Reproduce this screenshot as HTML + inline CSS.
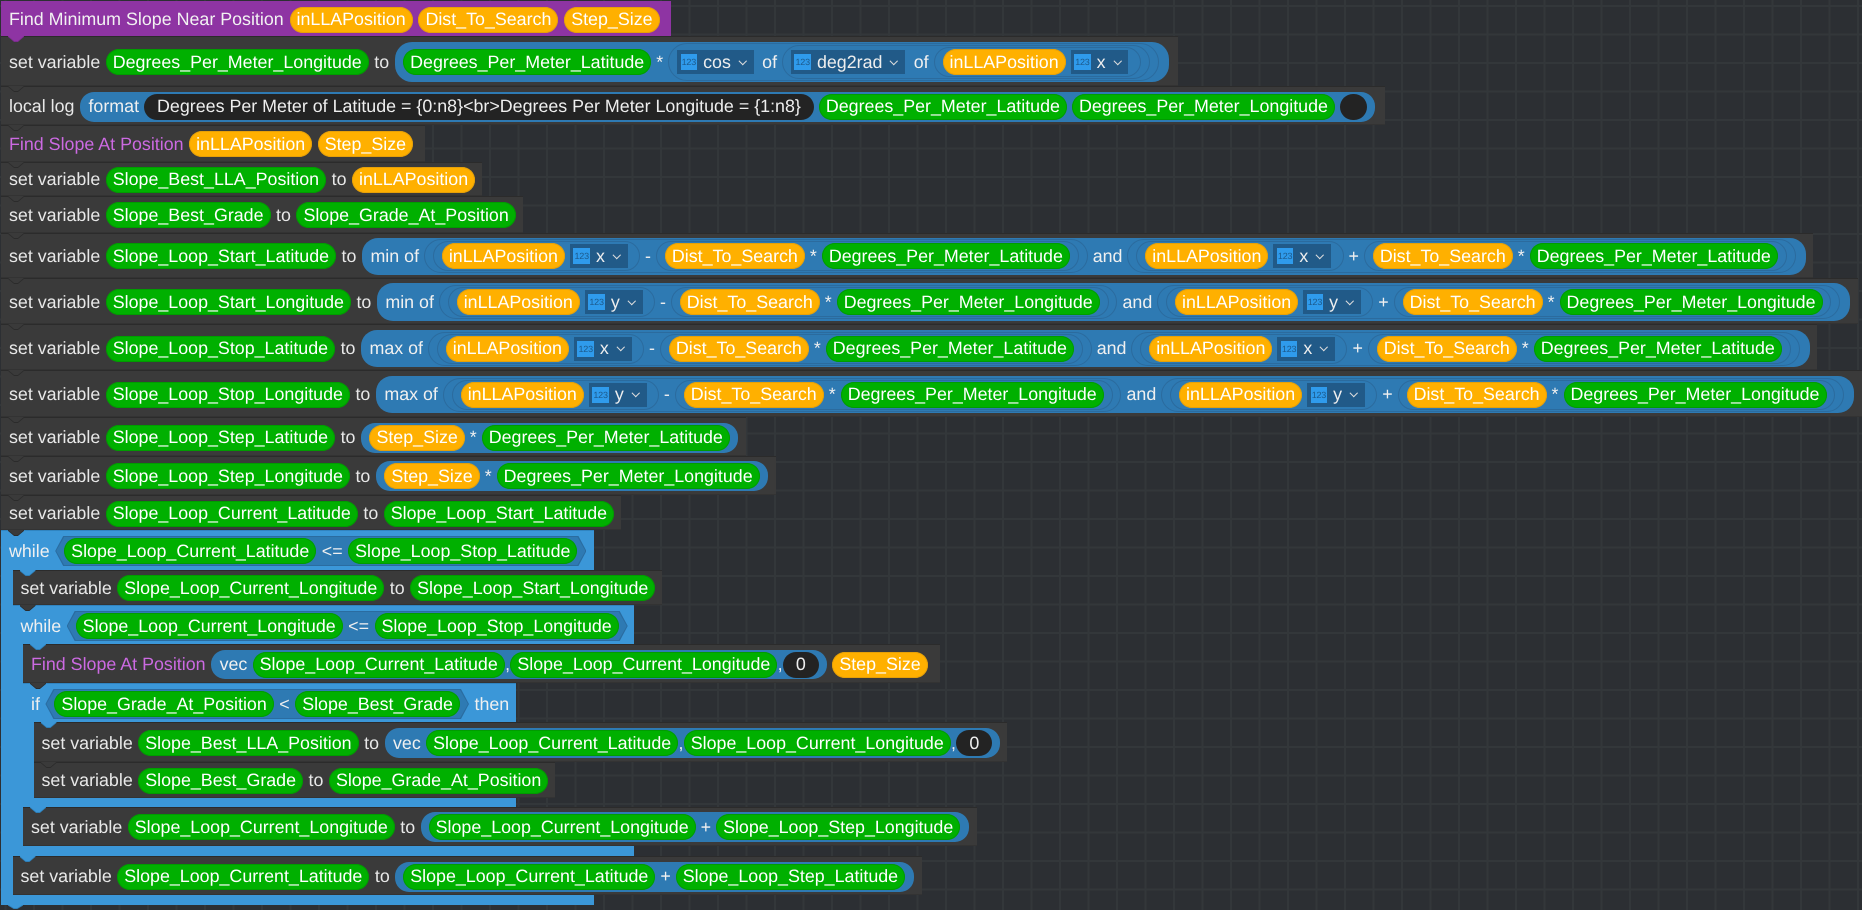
<!DOCTYPE html>
<html><head><meta charset="utf-8"><style>
html,body{margin:0;padding:0}
body{width:1862px;height:910px;overflow:hidden;position:relative;background-color:#2c2f33;background-image:linear-gradient(#33373a 2px,transparent 2px),linear-gradient(90deg,#33373a 2px,transparent 2px);background-size:28.5px 28.5px;background-position:4.5px 5px;font-family:"Liberation Sans",sans-serif;font-size:17.85px;color:#e8e8e8;text-rendering:geometricPrecision}
.r{position:absolute;box-sizing:border-box;display:flex;align-items:center;gap:5.5px;padding-left:8px;background:#3a3a3a;box-shadow:inset 0 1px #2b2b2b,inset 0 -1px #333;white-space:nowrap}
.p{background:#8e34a3;color:#f2f2f2;box-shadow:none;gap:5.8px}
.w{background:#3b97d8;box-shadow:inset 0 1px #3084c0;color:#f0f0f0}
.s{position:absolute;background:#3b97d8}
.m{color:#cc6ae2}
.g,.o,.d{display:flex;align-items:center;box-sizing:border-box;height:26px;border-radius:13px;padding:0 7px;color:#fff;flex:none}
.g{background:#00b000;box-shadow:inset 0 0 0 1px #009c00}
.o{background:#ffb000;box-shadow:inset 0 0 0 1px #e6a008}
.d{background:#232323;padding:0 13px;color:#eee}
.b{display:flex;align-items:center;gap:5px;box-sizing:border-box;height:30px;background:#2e7ab3;border-radius:14px;padding:0 8px 0 8.5px;color:#f0f0f0;flex:none}
.x{padding-right:10px}
.ve{gap:.3px}
.ve>span:first-child{margin-right:5px}
.n{display:flex;align-items:center;gap:5px;box-sizing:border-box;height:30px;border:1px solid #2b6b9e;border-radius:15px;padding:0 7.9px;flex:none}
.n4{height:34px;border-radius:17px}
.n8{height:38px;border-radius:19px}
.f{display:flex;align-items:center;box-sizing:border-box;height:24px;background:#215a88;padding:0 7.3px 0 3.5px;margin-right:3.5px;color:#eee;flex:none}
.i{display:block;box-sizing:border-box;width:16.5px;height:16px;line-height:16px;background:#2f9bec;color:#1c5a8c;font-size:9px;text-align:center;margin-right:6px;overflow:hidden;letter-spacing:-.2px}
.c{display:block;box-sizing:border-box;width:5.5px;height:5.5px;border:solid #ddd;border-width:0 1.6px 1.6px 0;transform:rotate(45deg);margin:-3px 1px 0 9px}
.h{position:relative;display:flex;align-items:center;gap:5.5px;box-sizing:border-box;height:30px;padding:0 9px;flex:none;background:#2a6ca0;clip-path:polygon(8px 0,calc(100% - 8px) 0,100% 50%,calc(100% - 8px) 100%,8px 100%,0 50%)}
.h::before{content:"";position:absolute;inset:1px;background:#2e7ab3;clip-path:polygon(8px 0,calc(100% - 8px) 0,100% 50%,calc(100% - 8px) 100%,8px 100%,0 50%)}
.h>*{position:relative}
.v{position:absolute;left:7px;top:0;width:16px;height:6px;background:#2b2b2b;clip-path:polygon(0 0,100% 0,100% 15%,62% 100%,38% 100%,0 15%)}
.v::after{content:"";position:absolute;left:0;top:-1px;width:100%;height:100%;background:var(--c,#3a3a3a);clip-path:polygon(0 0,100% 0,100% 15%,62% 100%,38% 100%,0 15%)}
.vb{--c:#3b97d8;background:#2e7fb8}
.vp{--c:#8e34a3;background:#7a2c8c}
</style></head><body>

<div class="s" style="left:1px;top:570px;width:11.5px;height:335px"></div>
<div class="s" style="left:1px;top:895px;width:592.8px;height:10px"></div>
<div class="v vb" style="left:8px;top:905px;height:4px;width:15px"></div>
<div class="s" style="left:12.5px;top:644px;width:10.5px;height:212px"></div>
<div class="s" style="left:12.5px;top:846px;width:621.5px;height:10px"></div>
<div class="s" style="left:23px;top:722px;width:10.5px;height:85px"></div>
<div class="s" style="left:23px;top:798px;width:492.6px;height:9px"></div>

<div class="r" style="left:1px;top:36px;width:1177px;height:50px;padding-top:2px"><div class="v vp" style="left:7px;"></div><span>set variable</span><span class="g">Degrees_Per_Meter_Longitude</span><span>to</span>
<div class="b x" style="height:40px;border-radius:17px"><span class="g">Degrees_Per_Meter_Latitude</span><span>*</span>
<div class="n n8"><div class="f"><span class="i">123</span><span>cos</span><span class="c"></span></div><span>of</span>
<div class="n n4"><div class="f"><span class="i">123</span><span>deg2rad</span><span class="c"></span></div><span>of</span>
<div class="n"><span class="o">inLLAPosition</span><div class="f"><span class="i">123</span><span>x</span><span class="c"></span></div></div>
</div></div></div></div>

<div class="p r" style="left:1px;top:1px;width:670px;height:35px;padding-top:2px"><span>Find Minimum Slope Near Position</span><span class="o">inLLAPosition</span><span class="o">Dist_To_Search</span><span class="o">Step_Size</span></div>

<div class="r" style="left:1px;top:86px;width:1384px;height:39px;padding-top:2px"><div class="v"></div><span>local log</span>
<div class="b" style="gap:5px"><span>format</span><span class="d">Degrees Per Meter of Latitude = {0:n8}&lt;br&gt;Degrees Per Meter Longitude = {1:n8}</span><span class="g">Degrees_Per_Meter_Latitude</span><span class="g">Degrees_Per_Meter_Longitude</span><span class="d" style="width:27px;padding:0"></span></div></div>

<div class="r" style="left:1px;top:125px;width:424px;height:37px;padding-top:1px"><div class="v"></div><span class="m">Find Slope At Position</span><span class="o">inLLAPosition</span><span class="o">Step_Size</span></div>

<div class="r" style="left:1px;top:162px;width:481px;height:34px;padding-top:1px"><div class="v"></div><span>set variable</span><span class="g">Slope_Best_LLA_Position</span><span>to</span><span class="o">inLLAPosition</span></div>

<div class="r" style="left:1px;top:196px;width:522px;height:37px;padding-top:1px"><div class="v"></div><span>set variable</span><span class="g">Slope_Best_Grade</span><span>to</span><span class="g">Slope_Grade_At_Position</span></div>

<div class="r" style="left:1px;top:233px;width:1812px;height:45px;padding-top:1px"><div class="v"></div><span>set variable</span><span class="g">Slope_Loop_Start_Latitude</span><span>to</span>
<div class="b x" style="height:37px;border-radius:16px"><span>min of</span>
<div class="n n4"><div class="n"><span class="o">inLLAPosition</span><div class="f"><span class="i">123</span><span>x</span><span class="c"></span></div></div><span>-</span><div class="n"><span class="o">Dist_To_Search</span><span>*</span><span class="g">Degrees_Per_Meter_Latitude</span></div></div>
<span>and</span>
<div class="n n4"><div class="n"><span class="o">inLLAPosition</span><div class="f"><span class="i">123</span><span>x</span><span class="c"></span></div></div><span>+</span><div class="n"><span class="o">Dist_To_Search</span><span>*</span><span class="g">Degrees_Per_Meter_Latitude</span></div></div>
</div></div>

<div class="r" style="left:1px;top:278px;width:1857px;height:46px;padding-top:2px"><div class="v"></div><span>set variable</span><span class="g">Slope_Loop_Start_Longitude</span><span>to</span>
<div class="b x" style="height:38px;border-radius:16px"><span>min of</span>
<div class="n n4"><div class="n"><span class="o">inLLAPosition</span><div class="f"><span class="i">123</span><span>y</span><span class="c"></span></div></div><span>-</span><div class="n"><span class="o">Dist_To_Search</span><span>*</span><span class="g">Degrees_Per_Meter_Longitude</span></div></div>
<span>and</span>
<div class="n n4"><div class="n"><span class="o">inLLAPosition</span><div class="f"><span class="i">123</span><span>y</span><span class="c"></span></div></div><span>+</span><div class="n"><span class="o">Dist_To_Search</span><span>*</span><span class="g">Degrees_Per_Meter_Longitude</span></div></div>
</div></div>

<div class="r" style="left:1px;top:324px;width:1816px;height:46px;padding-top:3px"><div class="v"></div><span>set variable</span><span class="g">Slope_Loop_Stop_Latitude</span><span>to</span>
<div class="b x" style="height:37px;border-radius:16px"><span>max of</span>
<div class="n n4"><div class="n"><span class="o">inLLAPosition</span><div class="f"><span class="i">123</span><span>x</span><span class="c"></span></div></div><span>-</span><div class="n"><span class="o">Dist_To_Search</span><span>*</span><span class="g">Degrees_Per_Meter_Latitude</span></div></div>
<span>and</span>
<div class="n n4"><div class="n"><span class="o">inLLAPosition</span><div class="f"><span class="i">123</span><span>x</span><span class="c"></span></div></div><span>+</span><div class="n"><span class="o">Dist_To_Search</span><span>*</span><span class="g">Degrees_Per_Meter_Latitude</span></div></div>
</div></div>

<div class="r" style="left:1px;top:370px;width:1861px;height:47px;padding-top:2px"><div class="v"></div><span>set variable</span><span class="g">Slope_Loop_Stop_Longitude</span><span>to</span>
<div class="b x" style="height:37px;border-radius:16px"><span>max of</span>
<div class="n n4"><div class="n"><span class="o">inLLAPosition</span><div class="f"><span class="i">123</span><span>y</span><span class="c"></span></div></div><span>-</span><div class="n"><span class="o">Dist_To_Search</span><span>*</span><span class="g">Degrees_Per_Meter_Longitude</span></div></div>
<span>and</span>
<div class="n n4"><div class="n"><span class="o">inLLAPosition</span><div class="f"><span class="i">123</span><span>y</span><span class="c"></span></div></div><span>+</span><div class="n"><span class="o">Dist_To_Search</span><span>*</span><span class="g">Degrees_Per_Meter_Longitude</span></div></div>
</div></div>

<div class="r" style="left:1px;top:417px;width:745px;height:39px;padding-top:2px"><div class="v"></div><span>set variable</span><span class="g">Slope_Loop_Step_Latitude</span><span>to</span><div class="b"><span class="o">Step_Size</span><span>*</span><span class="g">Degrees_Per_Meter_Latitude</span></div></div>

<div class="r" style="left:1px;top:456px;width:775px;height:39px;padding-top:1px"><div class="v"></div><span>set variable</span><span class="g">Slope_Loop_Step_Longitude</span><span>to</span><div class="b"><span class="o">Step_Size</span><span>*</span><span class="g">Degrees_Per_Meter_Longitude</span></div></div>

<div class="r" style="left:1px;top:495px;width:620px;height:35px;padding-top:2px"><div class="v"></div><span>set variable</span><span class="g">Slope_Loop_Current_Latitude</span><span>to</span><span class="g">Slope_Loop_Start_Latitude</span></div>

<div class="r w" style="left:1px;top:530px;width:593px;height:40px;padding-top:2px"><div class="v"></div><span>while</span><div class="h"><span class="g">Slope_Loop_Current_Latitude</span><span>&lt;=</span><span class="g">Slope_Loop_Stop_Latitude</span></div></div>

<div class="r" style="left:12.5px;top:570px;width:649px;height:35px;padding-top:1px"><div class="v vb"></div><span>set variable</span><span class="g">Slope_Loop_Current_Longitude</span><span>to</span><span class="g">Slope_Loop_Start_Longitude</span></div>

<div class="r w" style="left:12.5px;top:605px;width:621.5px;height:39px;padding-top:3px"><div class="v"></div><span>while</span><div class="h"><span class="g">Slope_Loop_Current_Longitude</span><span>&lt;=</span><span class="g">Slope_Loop_Stop_Longitude</span></div></div>

<div class="r" style="left:23px;top:644px;width:917px;height:39px;padding-top:2px"><div class="v vb"></div><span class="m">Find Slope At Position</span>
<div class="b ve" style="height:29px"><span>vec</span><span class="g">Slope_Loop_Current_Latitude</span><span>,</span><span class="g">Slope_Loop_Current_Longitude</span><span>,</span><span class="d">0</span></div><span class="o">Step_Size</span></div>

<div class="r w" style="left:23px;top:683px;width:492.6px;height:39px;padding-top:3px"><div class="v"></div><span>if</span><div class="h"><span class="g">Slope_Grade_At_Position</span><span>&lt;</span><span class="g">Slope_Best_Grade</span></div><span>then</span></div>

<div class="r" style="left:33.5px;top:722px;width:973px;height:40px;padding-top:2px"><div class="v vb"></div><span>set variable</span><span class="g">Slope_Best_LLA_Position</span><span>to</span>
<div class="b ve"><span>vec</span><span class="g">Slope_Loop_Current_Latitude</span><span>,</span><span class="g">Slope_Loop_Current_Longitude</span><span>,</span><span class="d">0</span></div></div>

<div class="r" style="left:33.5px;top:762px;width:521px;height:36px;padding-top:1px"><div class="v"></div><span>set variable</span><span class="g">Slope_Best_Grade</span><span>to</span><span class="g">Slope_Grade_At_Position</span></div>

<div class="r" style="left:23px;top:807px;width:953.7px;height:39px;padding-top:1px"><div class="v vb"></div><span>set variable</span><span class="g">Slope_Loop_Current_Longitude</span><span>to</span>
<div class="b" style="padding-left:8px;padding-right:9px"><span class="g">Slope_Loop_Current_Longitude</span><span>+</span><span class="g">Slope_Loop_Step_Longitude</span></div></div>

<div class="r" style="left:12.5px;top:856px;width:909px;height:39px;padding-top:2px"><div class="v vb"></div><span>set variable</span><span class="g">Slope_Loop_Current_Latitude</span><span>to</span>
<div class="b" style="padding-left:8px;padding-right:9px"><span class="g">Slope_Loop_Current_Latitude</span><span>+</span><span class="g">Slope_Loop_Step_Latitude</span></div></div>

</body></html>
